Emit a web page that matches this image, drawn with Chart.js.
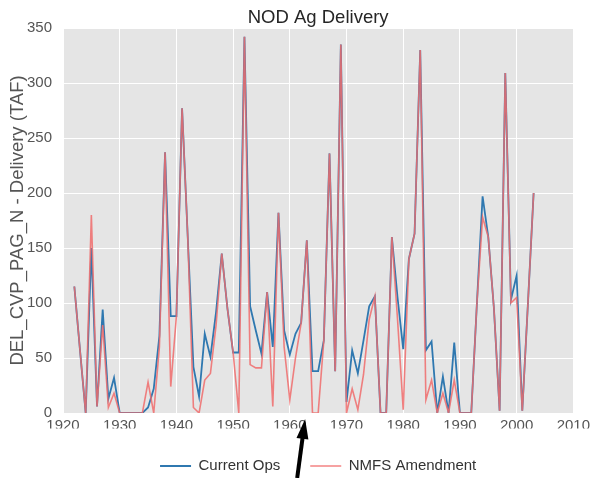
<!DOCTYPE html>
<html>
<head>
<meta charset="utf-8">
<title>NOD Ag Delivery</title>
<script src="https://cdn.jsdelivr.net/npm/chart.js@4.4.1/dist/chart.umd.min.js"></script>
<style>
    html, body { margin: 0; padding: 0; background: #ffffff; }
    #deliveryChart { display: block; }
</style>
</head>
<body>
<canvas id="deliveryChart" width="594" height="478"></canvas>
<script>
// Water years shown on the chart
const years = [
    1922, 1923, 1924, 1925, 1926, 1927, 1928, 1929, 1930, 1931,
    1932, 1933, 1934, 1935, 1936, 1937, 1938, 1939, 1940, 1941,
    1942, 1943, 1944, 1945, 1946, 1947, 1948, 1949, 1950, 1951,
    1952, 1953, 1954, 1955, 1956, 1957, 1958, 1959, 1960, 1961,
    1962, 1963, 1964, 1965, 1966, 1967, 1968, 1969, 1970, 1971,
    1972, 1973, 1974, 1975, 1976, 1977, 1978, 1979, 1980, 1981,
    1982, 1983, 1984, 1985, 1986, 1987, 1988, 1989, 1990, 1991,
    1992, 1993, 1994, 1995, 1996, 1997, 1998, 1999, 2000, 2001,
    2002, 2003
];

// Delivery (TAF)
const currentOps = [
    115, 57, 0, 150, 6, 94, 13, 32, 0, 0,
    0, 0, 0, 5, 22, 70, 237, 88, 88, 277,
    160, 42, 15, 72, 51, 92, 145, 95, 55, 55,
    342, 97, 75, 54, 110, 60, 182, 75, 53, 72,
    82, 157, 38, 38, 66, 236, 38, 335, 10, 57,
    36, 66, 97, 106, 0, 0, 160, 105, 58, 140,
    163, 330, 57, 65, 0, 33, 0, 64, 0, 0,
    0, 100, 197, 160, 95, 2, 309, 103, 125, 2,
    100, 200
];

const nmfsAmendment = [
    115, 57, 0, 180, 6, 80, 5, 18, 0, 0,
    0, 0, 0, 28, 0, 60, 237, 24, 88, 277,
    160, 5, 0, 30, 36, 80, 145, 95, 55, 0,
    342, 44, 41, 41, 110, 6, 182, 60, 12, 50,
    82, 157, 0, 0, 66, 236, 38, 335, 0, 22,
    3, 35, 85, 106, 0, 0, 160, 85, 3, 140,
    163, 330, 12, 30, 0, 18, 0, 30, 0, 0,
    0, 100, 178, 160, 95, 2, 309, 100, 105, 2,
    100, 200
];

const xTickValues = [1920, 1930, 1940, 1950, 1960, 1970, 1980, 1990, 2000, 2010];
const yTickValues = [0, 50, 100, 150, 200, 250, 300, 350];

const seriesLabels = ['Current Ops', 'NMFS Amendment'];

Chart.defaults.font.family = '"Liberation Sans", Arial, sans-serif';

// grey ggplot-like panel behind the grid
const panelBackground = {
    id: 'panelBackground',
    beforeDraw(chart) {
        const {ctx, chartArea} = chart;
        ctx.save();
        ctx.fillStyle = '#e5e5e5';
        ctx.fillRect(chartArea.left, chartArea.top, chartArea.right - chartArea.left, chartArea.bottom - chartArea.top);
        ctx.restore();
    }
};

// black arrow pointing at the 1960s below the axis
const pointerArrow = {
    id: 'pointerArrow',
    afterDraw(chart) {
        const {ctx, chartArea} = chart;
        const x = chart.scales.x;
        const tipX = x.getPixelForValue(1962.7);
        const tipY = chartArea.bottom + 6;
        const tailX = x.getPixelForValue(1961.3);
        const tailY = chart.height;
        const angle = Math.atan2(tipY - tailY, tipX - tailX);
        const headLen = 20;
        const headHalf = 6;

        ctx.save();
        ctx.strokeStyle = '#000';
        ctx.fillStyle = '#000';
        ctx.lineWidth = 4;
        ctx.beginPath();
        ctx.moveTo(tailX, tailY);
        ctx.lineTo(tipX - Math.cos(angle) * (headLen - 2), tipY - Math.sin(angle) * (headLen - 2));
        ctx.stroke();

        const baseX = tipX - Math.cos(angle) * headLen;
        const baseY = tipY - Math.sin(angle) * headLen;
        ctx.beginPath();
        ctx.moveTo(tipX, tipY);
        ctx.lineTo(baseX + Math.sin(angle) * headHalf, baseY - Math.cos(angle) * headHalf);
        ctx.lineTo(baseX - Math.sin(angle) * headHalf, baseY + Math.cos(angle) * headHalf);
        ctx.closePath();
        ctx.fill();
        ctx.restore();
    }
};

const ctx = document.getElementById('deliveryChart').getContext('2d');

const chart = new Chart(ctx, {
    type: 'line',
    data: {
        datasets: [
            {
                label: seriesLabels[0],
                data: years.map((y, i) => ({x: y, y: currentOps[i]})),
                borderColor: '#2f78b0',
                backgroundColor: '#2f78b0',
                borderWidth: 1.8,
                pointRadius: 0,
                tension: 0,
                order: 1
            },
            {
                label: seriesLabels[1],
                data: years.map((y, i) => ({x: y, y: nmfsAmendment[i]})),
                borderColor: 'rgba(240, 108, 108, 0.85)',
                backgroundColor: 'rgba(240, 108, 108, 0.85)',
                borderWidth: 1.6,
                pointRadius: 0,
                tension: 0,
                order: 0
            }
        ]
    },
    options: {
        responsive: false,
        animation: false,
        devicePixelRatio: 1,
        layout: {
            padding: {left: 0, right: 18, top: 0, bottom: -5.5}
        },
        plugins: {
            title: {
                display: true,
                text: 'NOD Ag Delivery',
                fullSize: false,
                color: '#262626',
                font: {size: 18.5, weight: 'normal', lineHeight: 1},
                padding: {top: 9, bottom: 0.5}
            },
            legend: {
                position: 'bottom',
                fullSize: false,
                labels: {
                    usePointStyle: true,
                    pointStyle: 'line',
                    pointStyleWidth: 31,
                    color: '#333333',
                    font: {size: 15},
                    padding: 30,
                    sort: (a, b) => a.datasetIndex - b.datasetIndex
                }
            },
            tooltip: {enabled: false}
        },
        scales: {
            x: {
                type: 'linear',
                min: 1920,
                max: 2010,
                afterBuildTicks: scale => {
                    scale.ticks = xTickValues.map(v => ({value: v}));
                },
                afterFit: scale => {
                    scale.height = 15.5;
                },
                grid: {color: '#ffffff', lineWidth: 1, drawTicks: false},
                border: {display: false},
                ticks: {
                    color: '#555555',
                    font: {size: 15},
                    padding: 4,
                    maxRotation: 0,
                    callback: value => String(value)
                }
            },
            y: {
                min: 0,
                max: 350,
                afterBuildTicks: scale => {
                    scale.ticks = yTickValues.map(v => ({value: v}));
                },
                afterFit: scale => {
                    scale.width = 63;
                },
                grid: {color: '#ffffff', lineWidth: 1, drawTicks: false},
                border: {display: false},
                title: {
                    display: true,
                    text: 'DEL_CVP_PAG_N - Delivery (TAF)',
                    color: '#555555',
                    font: {size: 18.5},
                    padding: {top: 7, bottom: 0}
                },
                ticks: {
                    color: '#555555',
                    font: {size: 15},
                    padding: 11,
                    callback: value => String(value)
                }
            }
        }
    },
    plugins: [panelBackground, pointerArrow]
});
</script>
</body>
</html>
